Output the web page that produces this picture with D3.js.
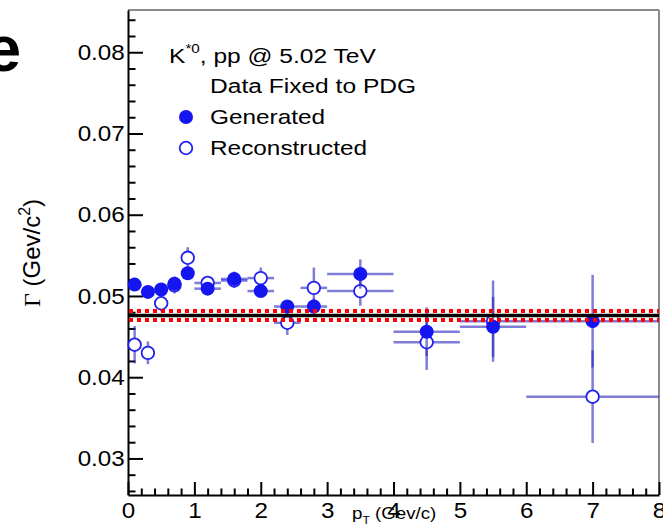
<!DOCTYPE html>
<html>
<head>
<meta charset="utf-8">
<script src="https://cdn.jsdelivr.net/npm/d3@7"></script>
<style>
  html, body { margin: 0; padding: 0; background: #fff; }
  svg { display: block; }
</style>
</head>
<body>
<svg id="chart" width="663" height="526"></svg>
<script>
// K*0 width vs pT, pp @ 5.02 TeV
const binLow  = [0.0, 0.2, 0.4, 0.6, 0.8, 1.0, 1.4, 1.8, 2.2, 2.6, 3.0, 4.0, 5.0, 6.0];
const binHigh = [0.2, 0.4, 0.6, 0.8, 1.0, 1.4, 1.8, 2.2, 2.6, 3.0, 4.0, 5.0, 6.0, 8.0];

const generated      = [0.0514, 0.0505, 0.0508, 0.0515, 0.0528, 0.0509, 0.0521, 0.0506, 0.0487, 0.0487, 0.0527, 0.0456, 0.0462, 0.0469];
const generatedErr   = [0.0006, 0.0005, 0.0006, 0.0009, 0.0008, 0.0006, 0.0009, 0.0007, 0.0008, 0.0010, 0.0018, 0.0030, 0.0037, 0.0057];
const reconstructed    = [0.0440, 0.0430, 0.0491, 0.0513, 0.0547, 0.0516, 0.0519, 0.0522, 0.0467, 0.0510, 0.0506, 0.0443, 0.0469, 0.0376];
const reconstructedErr = [0.0023, 0.0014, 0.0010, 0.0010, 0.0013, 0.0008, 0.0009, 0.0013, 0.0015, 0.0025, 0.0018, 0.0034, 0.0050, 0.0057];

// PDG reference width and its uncertainty band
const pdgWidth = 0.0476;
const pdgWidthErr = 0.00055;

const xTickValues = [0, 1, 2, 3, 4, 5, 6, 7, 8];
const yTickValues = [0.03, 0.04, 0.05, 0.06, 0.07, 0.08];
const xDomain = [0, 8];
const yDomain = [0.0255, 0.0852];

const svg = d3.select("#chart");
const plotLeft = 128, plotRight = 659, plotTop = 10, plotBottom = 495;

const x = d3.scaleLinear().domain(xDomain).range([plotLeft, plotRight]);
const y = d3.scaleLinear().domain(yDomain).range([plotBottom, plotTop]);

const sans = "'Liberation Sans', Arial, Helvetica, sans-serif";
const serif = "'Liberation Serif', 'Times New Roman', serif";

// cropped neighbouring title letter
svg.append("text")
  .attr("x", -15).attr("y", 71)
  .attr("font-family", sans).attr("font-weight", "bold")
  .attr("font-size", 65).attr("fill", "#000")
  .text("e");

// frame (top and right)
svg.append("line").attr("x1", plotLeft).attr("x2", plotRight).attr("y1", plotTop).attr("y2", plotTop)
  .attr("stroke", "#8a8a8a").attr("stroke-width", 2);
svg.append("line").attr("x1", plotRight).attr("x2", plotRight).attr("y1", plotTop).attr("y2", plotBottom)
  .attr("stroke", "#8a8a8a").attr("stroke-width", 2);

// minor ticks
const xMinor = d3.range(0, 8.001, 0.2).filter(v => Math.abs(v - Math.round(v)) > 1e-6);
const yMinor = d3.range(0.026, 0.0851, 0.002).filter(v => Math.abs(v * 100 - Math.round(v * 100)) > 1e-6);

svg.append("g").attr("transform", `translate(0,${plotBottom})`)
  .call(d3.axisBottom(x).tickValues(xMinor).tickSize(-6.5).tickFormat(""))
  .call(g => g.select(".domain").remove())
  .call(g => g.selectAll("line").attr("stroke", "#000").attr("stroke-width", 2));

svg.append("g").attr("transform", `translate(${plotLeft},0)`)
  .call(d3.axisLeft(y).tickValues(yMinor).tickSize(-7.5).tickFormat(""))
  .call(g => g.select(".domain").remove())
  .call(g => g.selectAll("line").attr("stroke", "#000").attr("stroke-width", 2));

// major ticks and labels
const xAxis = svg.append("g").attr("transform", `translate(0,${plotBottom})`)
  .call(d3.axisBottom(x).tickValues(xTickValues).tickSizeInner(-13).tickSizeOuter(0)
    .tickPadding(7.5).tickFormat(d3.format("d")));
xAxis.select(".domain").attr("stroke", "#000").attr("stroke-width", 2);
xAxis.selectAll("line").attr("stroke", "#000").attr("stroke-width", 2);
xAxis.selectAll("text").attr("font-family", sans).attr("font-size", 22).attr("fill", "#000")
  .attr("transform", "scale(1.1,1)");

const yAxis = svg.append("g").attr("transform", `translate(${plotLeft},0)`)
  .call(d3.axisLeft(y).tickValues(yTickValues).tickSizeInner(-15).tickSizeOuter(0)
    .tickPadding(3).tickFormat(d3.format(".2f")));
yAxis.select(".domain").attr("stroke", "#000").attr("stroke-width", 2);
yAxis.selectAll("line").attr("stroke", "#000").attr("stroke-width", 2);
yAxis.selectAll("text").attr("font-family", sans).attr("font-size", 22).attr("fill", "#000")
  .attr("transform", "scale(1.1,1)");

// axis titles
const yTitle = svg.append("text")
  .attr("transform", "translate(40,253) rotate(-90)")
  .attr("text-anchor", "middle")
  .attr("font-family", sans).attr("font-size", 24).attr("fill", "#000");
yTitle.append("tspan").attr("font-family", serif).text("Γ");
yTitle.append("tspan").text(" (Gev/c");
yTitle.append("tspan").attr("dy", -10).attr("font-size", 16).text("2");
yTitle.append("tspan").attr("dy", 10).text(")");

const xTitle = svg.append("text")
  .attr("transform", "translate(352,519) scale(1.1,1)")
  .attr("font-family", sans).attr("font-size", 17).attr("fill", "#000");
xTitle.append("tspan").text("p");
xTitle.append("tspan").attr("dy", 5).attr("font-size", 11).text("T");
xTitle.append("tspan").attr("dy", -5).text(" (Gev/c)");

// data points
const points = binLow.map((lo, i) => ({
  lo, hi: binHigh[i], xc: (lo + binHigh[i]) / 2,
  gen: generated[i], genErr: generatedErr[i],
  rec: reconstructed[i], recErr: reconstructedErr[i]
}));

const errColor = "rgb(40,40,190)";
function drawErrors(key, errKey, cls) {
  const g = svg.append("g").attr("class", cls)
    .attr("stroke", errColor).attr("stroke-opacity", 0.6).attr("stroke-width", 2.5);
  g.selectAll("line.h").data(points).join("line").attr("class", "h")
    .attr("x1", d => x(d.lo)).attr("x2", d => x(d.hi))
    .attr("y1", d => y(d[key])).attr("y2", d => y(d[key]));
  g.selectAll("line.v").data(points).join("line").attr("class", "v")
    .attr("x1", d => x(d.xc)).attr("x2", d => x(d.xc))
    .attr("y1", d => y(d[key] - d[errKey])).attr("y2", d => y(d[key] + d[errKey]));
}

drawErrors("rec", "recErr", "rec-err");
svg.append("g").selectAll("circle").data(points).join("circle")
  .attr("cx", d => x(d.xc)).attr("cy", d => y(d.rec)).attr("r", 6.3)
  .attr("fill", "#fff").attr("stroke", "#2323f0").attr("stroke-width", 1.8);

drawErrors("gen", "genErr", "gen-err");
svg.append("g").selectAll("circle").data(points).join("circle")
  .attr("cx", d => x(d.xc)).attr("cy", d => y(d.gen)).attr("r", 7)
  .attr("fill", "#1515f2");

// PDG width line and band
svg.append("line").attr("x1", plotLeft).attr("x2", plotRight)
  .attr("y1", y(pdgWidth)).attr("y2", y(pdgWidth))
  .attr("stroke", "#000").attr("stroke-width", 3.5);
[pdgWidth + pdgWidthErr, pdgWidth - pdgWidthErr].forEach(v => {
  svg.append("line").attr("x1", plotLeft + 1).attr("x2", plotRight)
    .attr("y1", y(v)).attr("y2", y(v))
    .attr("stroke", "#ff0000").attr("stroke-width", 4)
    .attr("stroke-dasharray", "4,4");
});

// legend
const legendTitle = svg.append("text")
  .attr("transform", "translate(169,63) scale(1.17,1)")
  .attr("font-family", sans).attr("font-size", 21).attr("fill", "#000");
legendTitle.append("tspan").text("K");
legendTitle.append("tspan").attr("dy", -10).attr("font-size", 13).text("*0");
legendTitle.append("tspan").attr("dy", 10).text(", pp @ 5.02 TeV");

svg.append("text")
  .attr("transform", "translate(210,93) scale(1.17,1)")
  .attr("font-family", sans).attr("font-size", 21).attr("fill", "#000")
  .text("Data Fixed to PDG");

const legendRows = [
  { label: "Generated", filled: true, cy: 117 },
  { label: "Reconstructed", filled: false, cy: 148 }
];
legendRows.forEach(r => {
  svg.append("circle").attr("cx", 186).attr("cy", r.cy)
    .attr("r", r.filled ? 7 : 6.3)
    .attr("fill", r.filled ? "#1515f2" : "#fff")
    .attr("stroke", r.filled ? "none" : "#2323f0").attr("stroke-width", 1.8);
  svg.append("text")
    .attr("transform", `translate(210,${r.cy + 7}) scale(1.16,1)`)
    .attr("font-family", sans).attr("font-size", 21).attr("fill", "#000")
    .text(r.label);
});
</script>
</body>
</html>
